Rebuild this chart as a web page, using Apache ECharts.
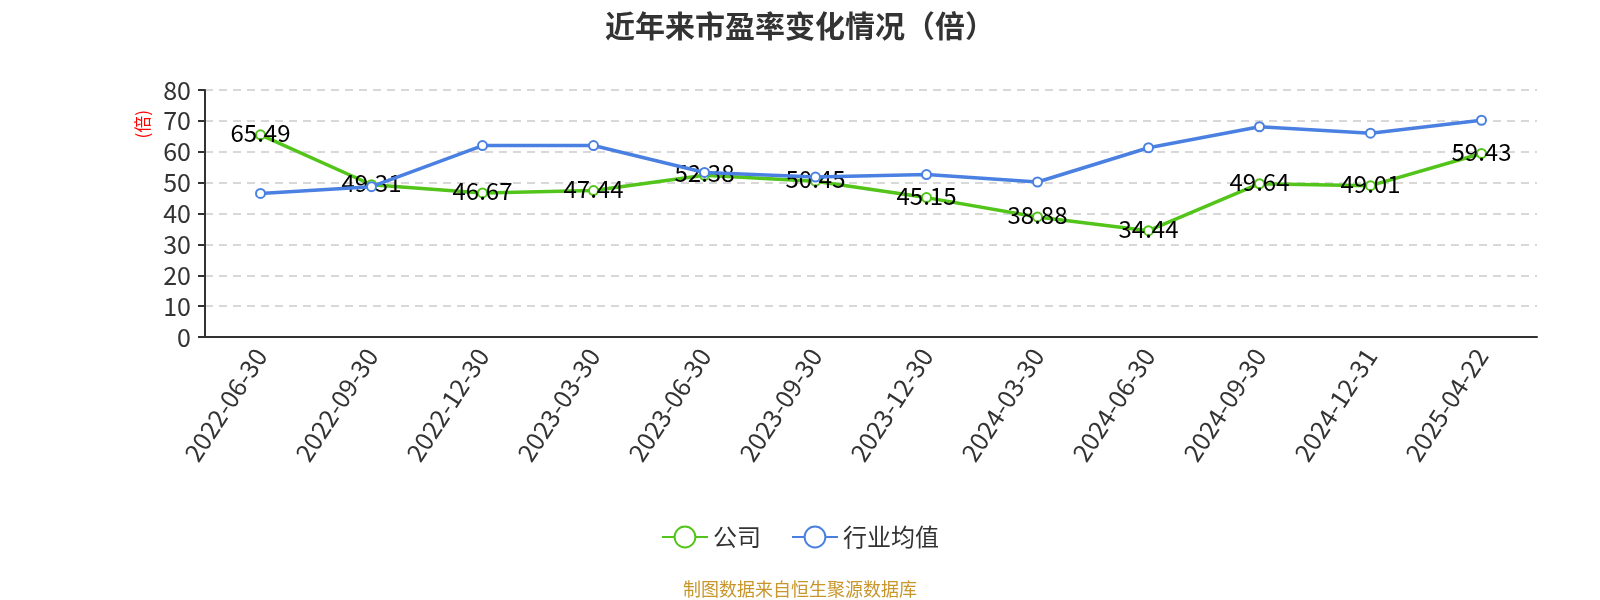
<!DOCTYPE html>
<html><head><meta charset="utf-8">
<script src="https://cdn.jsdelivr.net/npm/echarts@6/dist/echarts.min.js"></script>
<style>html,body{margin:0;padding:0;background:#fff}#c{width:1600px;height:600px}</style>
</head><body><div id="c"></div>
<script>
const categories = ['2022-06-30','2022-09-30','2022-12-30','2023-03-30','2023-06-30','2023-09-30','2023-12-30','2024-03-30','2024-06-30','2024-09-30','2024-12-31','2025-04-22'];
const companyPE = [65.49,49.31,46.67,47.44,52.38,50.45,45.15,38.88,34.44,49.64,49.01,59.43];
const industryPE = [46.5,48.7,62.0,62.0,53.3,51.8,52.6,50.2,61.3,68.1,66.0,70.2];
const yTicks = {min:0,max:80,interval:10};
const FONT = '"Noto Sans CJK SC","Noto Sans",sans-serif';
const chart = echarts.init(document.getElementById('c'));
chart.setOption({
  animation:false,
  textStyle:{fontFamily:FONT},
  title:{text:'近年来市盈率变化情况（倍）',left:'center',top:6,textStyle:{fontSize:30,fontWeight:'bold',color:'#333',fontFamily:FONT}},
  grid:{left:205,right:63,top:90,bottom:263},
  legend:{bottom:46,itemWidth:46,itemHeight:26,itemGap:30,textStyle:{fontSize:24,color:'#333',fontFamily:FONT},
    data:['公司','行业均值']},
  graphic:[{type:'text',left:134,top:110,rotation:Math.PI/2,style:{text:'(倍)',fill:'#f00',fontSize:17,fontFamily:FONT}},
    {type:'text',left:'center',bottom:2,style:{text:'制图数据来自恒生聚源数据库',fill:'#c8962a',fontSize:18,fontFamily:FONT}}],
  xAxis:{type:'category',data:categories,boundaryGap:true,
    axisLine:{lineStyle:{color:'#333',width:2}},axisTick:{length:7,lineStyle:{color:'#333',width:2}},
    axisLabel:{rotate:57,fontSize:25,color:'#333',margin:14,interval:0,fontFamily:FONT}},
  yAxis:{type:'value',min:yTicks.min,max:yTicks.max,interval:yTicks.interval,
    axisLine:{show:true,lineStyle:{color:'#333',width:2}},axisTick:{show:true,length:7,lineStyle:{color:'#333',width:2}},
    axisLabel:{fontSize:25,color:'#333',margin:14,fontFamily:FONT},
    splitLine:{lineStyle:{type:[8,6],color:'#ccc',width:1.5}}},
  series:[
    {name:'公司',type:'line',data:companyPE,symbol:'emptyCircle',symbolSize:9,
     itemStyle:{color:'#52c41a',borderWidth:2},lineStyle:{width:3.5,color:'#52c41a'},
     label:{show:true,position:'inside',offset:[0,-2],fontSize:24,color:'#000',fontFamily:FONT},z:2},
    {name:'行业均值',type:'line',data:industryPE,symbol:'emptyCircle',symbolSize:9,
     itemStyle:{color:'#4a80e1',borderWidth:2},lineStyle:{width:3.5,color:'#4a80e1'},z:3}
  ]
});
</script></body></html>
